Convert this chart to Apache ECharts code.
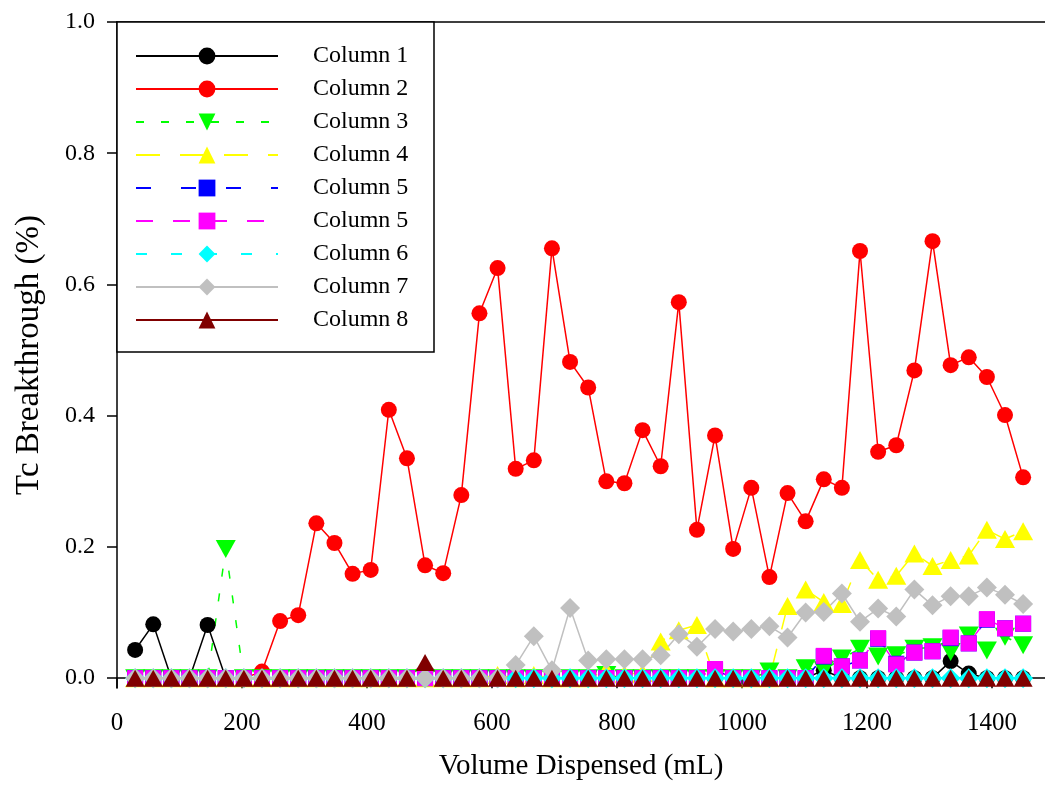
<!DOCTYPE html>
<html>
<head>
<meta charset="utf-8">
<script src="https://cdn.jsdelivr.net/npm/echarts@6/dist/echarts.min.js"></script>
<style>html,body{margin:0;padding:0;background:#fff;}#c{width:1045px;height:787px;}</style>
</head>
<body>
<div id="c"></div>
<script>
const volume = [29,58,87,116,145,174,203,232,261,290,319,348,377,406,435,464,493,522,551,580,609,638,667,696,725,754,783,812,841,870,899,928,957,986,1015,1044,1073,1102,1131,1160,1189,1218,1247,1276,1305,1334,1363,1392,1421,1450];

const col1 = [0.043,0.082,0,0,0.081,0,0,0,0,0, 0,0,0,0,0,0,0,0,0,0, 0,0,0,0,0,0,0,0,0,0, 0,0,0,0,0,0,0,0,0.012,0, 0,0,0,0,0,0.026,0.007,0,0,0];
const col2 = [0,0,0,0,0,0,0,0.010,0.087,0.096, 0.236,0.206,0.159,0.165,0.409,0.335,0.172,0.160,0.279,0.556, 0.625,0.319,0.332,0.655,0.482,0.443,0.300,0.297,0.378,0.323, 0.573,0.226,0.370,0.197,0.290,0.154,0.282,0.239,0.303,0.290, 0.651,0.345,0.355,0.469,0.666,0.477,0.489,0.459,0.401,0.306];
const col3 = [0,0,0,0,0,0.197,0,0,0,0, 0,0,0,0,0,0,0,0,0,0, 0,0,0,0,0,0,0.005,0,0,0, 0,0,0,0,0,0.010,0,0.015,0.012,0.030, 0.045,0.033,0.035,0.045,0.047,0.040,0.065,0.042,0.063,0.050];
const col4 = [0,0,0,0,0,0,0,0,0,0, 0,0,0,0,0,0,0,0,0,0, 0.005,0,0.005,0,0,0,0.012,0.006,0.008,0.056, 0.073,0.081,0,0,0,0,0.110,0.135,0.116,0.113, 0.180,0.150,0.156,0.190,0.171,0.180,0.187,0.226,0.212,0.224];
const col5a = [0,0,0,0,0,0,0,0,0,0, 0,0,0,0,0,0,0,0,0,0, 0,0,0,0,0,0,0,0,0,0, 0,0,0.013,0,0,0,0,0,0.033,0.018, 0.027,0.060,0.022,0.039,0.041,0.061,0.053,0.089,0.076,0.083];
const col5b = [0,0,0,0,0,0,0,0,0,0, 0,0,0,0,0,0,0,0,0,0, 0,0,0,0,0,0,0,0,0,0, 0,0,0.014,0,0,0,0,0,0.034,0.018, 0.027,0.061,0.021,0.039,0.041,0.062,0.053,0.090,0.076,0.083];
const col6 = [0,0,0,0,0,0,0,0,0,0, 0,0,0,0,0,0,0,0,0,0, 0,0,0,0,0,0,0,0,0,0, 0,0,0,0,0,0,0,0,0,0, 0,0,0,0,0,0,0,0,0,0];
const col7 = [0,0,0,0,0,0,0,0,0,0, 0,0,0,0,0,0,0,0,0,0, 0,0.020,0.064,0.012,0.107,0.027,0.029,0.029,0.029,0.035, 0.067,0.048,0.075,0.071,0.075,0.079,0.062,0.100,0.101,0.129, 0.086,0.106,0.094,0.135,0.111,0.125,0.125,0.138,0.127,0.113];
const col8 = [0,0,0,0,0,0,0,0,0,0, 0,0,0,0,0,0,0.024,0,0,0, 0,0,0,0,0,0,0,0,0,0, 0,0,0,0,0,0,0,0,0,0, 0,0,0,0,0,0,0,0,0,0];

const seriesNames = ['Column 1','Column 2','Column 3','Column 4','Column 5','Column 5 ','Column 6','Column 7','Column 8'];
const xTicks = [0,200,400,600,800,1000,1200,1400];
const yTicks = [0,0.2,0.4,0.6,0.8,1.0];

const FONT = 'Liberation Serif';
const seriesData = [col1,col2,col3,col4,col5a,col5b,col6,col7,col8];
const styles = [
  {color:'#000000', symbol:'circle', size:16, dash:'solid'},
  {color:'#ff0000', symbol:'circle', size:16, dash:'solid'},
  {color:'#00ff00', symbol:'path://M0,0 L20,0 L10,18 Z', size:[20,18], dash:[8,17]},
  {color:'#ffff00', symbol:'triangle', size:[20,18], dash:[24,20]},
  {color:'#0000ff', symbol:'rect', size:16, dash:[15,30]},
  {color:'#ff00ff', symbol:'rect', size:16, dash:[17,20]},
  {color:'#00ffff', symbol:'diamond', size:[20,20], dash:[11,24]},
  {color:'#c0c0c0', symbol:'diamond', size:[20,20], dash:'solid'},
  {color:'#800000', symbol:'triangle', size:[19,17], dash:'solid'}
];

const series = seriesNames.map((name, k) => ({
  name: name,
  type: 'line',
  data: volume.map((v, i) => [v, seriesData[k][i]]),
  symbol: styles[k].symbol,
  symbolSize: styles[k].size,
  showAllSymbol: true,
  lineStyle: {color: styles[k].color, width: 1.5, type: styles[k].dash},
  itemStyle: {color: styles[k].color, borderWidth: 0},
  emphasis: {disabled: true},
  animation: false
}));

const chart = echarts.init(document.getElementById('c'), null, {renderer:'canvas'});
chart.setOption({
  animation: false,
  backgroundColor: '#ffffff',
  textStyle: {fontFamily: FONT},
  grid: {left: 117, right: 0, top: 22, bottom: 99, containLabel: false, outerBoundsMode: 'none'},
  xAxis: [{
    type: 'value', min: 0, max: 1485, position: 'bottom',
    axisLine: {show: true, onZero: true, lineStyle: {color: '#000', width: 1.5}},
    axisTick: {show: true, inside: false, length: 10, customValues: xTicks, lineStyle: {color: '#000', width: 1.5}},
    axisLabel: {customValues: xTicks, formatter: v => String(v), fontSize: 25, fontFamily: FONT, color: '#000', margin: 23},
    splitLine: {show: false},
    name: 'Volume Dispensed (mL)', nameLocation: 'middle', nameGap: 64,
    nameTextStyle: {fontSize: 29, fontFamily: FONT, color: '#000'}
  }, {
    type: 'value', min: 0, max: 1485, position: 'top',
    axisLine: {show: true, onZero: false, lineStyle: {color: '#000', width: 1.5}},
    axisTick: {show: false}, axisLabel: {show: false}, splitLine: {show: false}
  }],
  yAxis: {
    type: 'value', min: -0.015, max: 1.0,
    axisLine: {show: true, onZero: false, lineStyle: {color: '#000', width: 1.5}},
    axisTick: {show: true, inside: false, length: 10, customValues: yTicks, lineStyle: {color: '#000', width: 1.5}},
    axisLabel: {customValues: yTicks, formatter: v => v.toFixed(1), fontSize: 24, fontFamily: FONT, color: '#000', margin: 22},
    splitLine: {show: false},
    name: 'Tc Breakthrough (%)', nameLocation: 'middle', nameGap: 71, nameRotate: 90,
    nameTextStyle: {fontSize: 33, fontFamily: FONT, color: '#000'}
  },
  legend: {
    orient: 'vertical', left: 135, top: 44, padding: 0,
    itemWidth: 142, itemHeight: 21, itemGap: 9,
    selectedMode: false,
    data: seriesNames,
    formatter: n => n.trim(),
    textStyle: {fontSize: 24, fontFamily: FONT, color: '#000', lineHeight: 21, padding: [0,0,0,30]}
  },
  graphic: [{
    type: 'rect', z: 3, silent: true,
    shape: {x: 117, y: 22, width: 317, height: 330},
    style: {fill: '#ffffff', stroke: '#000', lineWidth: 1.5}
  }],
  series: series
});
</script>
</body>
</html>
